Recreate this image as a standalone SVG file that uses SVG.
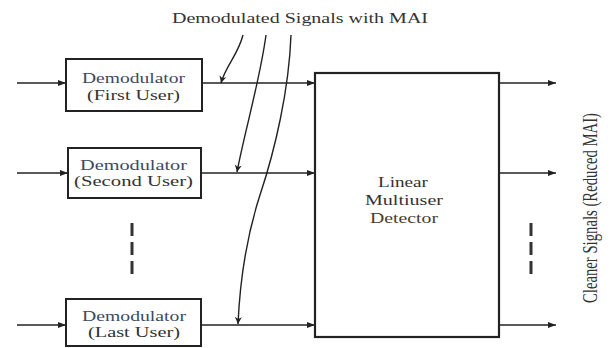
<svg xmlns="http://www.w3.org/2000/svg" width="613" height="348" viewBox="0 0 613 348">
  <defs>
    <style>
      .box { fill: #ffffff; stroke: #222; stroke-width: 2; }
      .det { fill: #ffffff; stroke: #222; stroke-width: 2.2; }
      .ln { fill: none; stroke: #222; stroke-width: 1.5; }
      .crv { fill: none; stroke: #222; stroke-width: 1.4; }
      .dash { fill: none; stroke: #333; stroke-width: 3; stroke-dasharray: 13 6; }
      .t { font-family: "Liberation Serif", "Times New Roman", serif; fill: #333; }
      .demod { fill: #3b4a62; }
    </style>
    <marker id="ah" markerUnits="userSpaceOnUse" markerWidth="8" markerHeight="6" refX="8" refY="3" orient="auto">
      <path d="M0,0 L8,3 L0,6 z" fill="#222"/>
    </marker>
    <marker id="vh" markerUnits="userSpaceOnUse" markerWidth="10" markerHeight="10" refX="8" refY="5" orient="auto">
      <path d="M1,1.5 L8,5 L1,8.5 L3,5 z" fill="#222"/>
    </marker>
  </defs>

  <text class="t" x="172" y="23" font-size="14" textLength="256" lengthAdjust="spacingAndGlyphs">Demodulated Signals with MAI</text>

  <g id="connectors">
    <line class="ln" x1="17" y1="83" x2="66" y2="83" marker-end="url(#ah)"/>
    <line class="ln" x1="17" y1="173" x2="68" y2="173" marker-end="url(#ah)"/>
    <line class="ln" x1="17" y1="325" x2="66" y2="325" marker-end="url(#ah)"/>
    <line class="ln" x1="202" y1="83" x2="315" y2="83" marker-end="url(#ah)"/>
    <line class="ln" x1="201" y1="173" x2="315" y2="173" marker-end="url(#ah)"/>
    <line class="ln" x1="201" y1="325" x2="315" y2="325" marker-end="url(#ah)"/>
    <line class="ln" x1="499" y1="83" x2="556" y2="83" marker-end="url(#ah)"/>
    <line class="ln" x1="499" y1="173" x2="556" y2="173" marker-end="url(#ah)"/>
    <line class="ln" x1="499" y1="325" x2="556" y2="325" marker-end="url(#ah)"/>
    <path class="crv" d="M243,35 C238,55 226,65 221,83" marker-end="url(#vh)"/>
    <path class="crv" d="M266,35 C260,80 245,130 237,172" marker-end="url(#vh)"/>
    <path class="crv" d="M291,35 C289,90 275,150 260,195 C247,235 240,280 238,324" marker-end="url(#vh)"/>
    <line class="dash" x1="132" y1="223" x2="132" y2="274"/>
    <line class="dash" x1="531" y1="223" x2="531" y2="274"/>
  </g>

  <g id="demod1">
    <rect class="box" x="66" y="59" width="136" height="52"/>
    <text class="t demod" x="82" y="83" font-size="15" textLength="103" lengthAdjust="spacingAndGlyphs">Demodulator</text>
    <text class="t" x="87" y="100" font-size="15" textLength="93" lengthAdjust="spacingAndGlyphs">(First User)</text>
  </g>

  <g id="demod2">
    <rect class="box" x="68" y="148" width="133" height="50"/>
    <text class="t demod" x="80" y="170" font-size="15" textLength="107" lengthAdjust="spacingAndGlyphs">Demodulator</text>
    <text class="t" x="74" y="186" font-size="15" textLength="119" lengthAdjust="spacingAndGlyphs">(Second User)</text>
  </g>

  <g id="demod3">
    <rect class="box" x="66" y="299" width="135" height="47"/>
    <text class="t demod" x="82" y="321" font-size="15" textLength="104" lengthAdjust="spacingAndGlyphs">Demodulator</text>
    <text class="t" x="88" y="337" font-size="15" textLength="92" lengthAdjust="spacingAndGlyphs">(Last User)</text>
  </g>

  <g id="detector">
    <rect class="det" x="315" y="73" width="184" height="264"/>
    <text class="t" x="403" y="187" font-size="15" text-anchor="middle" textLength="50" lengthAdjust="spacingAndGlyphs">Linear</text>
    <text class="t" x="404" y="205" font-size="15" text-anchor="middle" textLength="78" lengthAdjust="spacingAndGlyphs">Multiuser</text>
    <text class="t" x="404" y="223" font-size="15" text-anchor="middle" textLength="68" lengthAdjust="spacingAndGlyphs" fill="#4a3b2c" style="fill:#4a3b2c">Detector</text>
  </g>

  <g id="output-label">
    <text class="t" transform="translate(597,208) rotate(-90)" x="0" y="0" font-size="21" text-anchor="middle" textLength="190" lengthAdjust="spacingAndGlyphs">Cleaner Signals (Reduced MAI)</text>
  </g>
</svg>
